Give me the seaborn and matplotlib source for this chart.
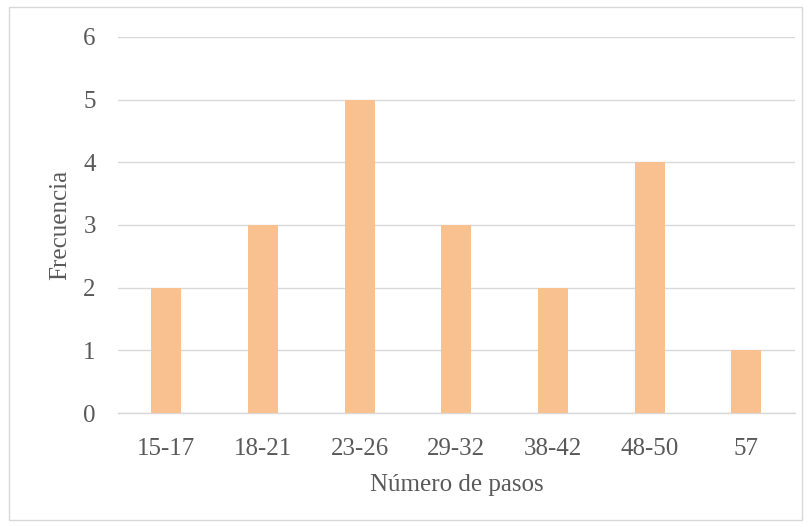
import matplotlib
matplotlib.use("Agg")
import matplotlib.pyplot as plt
import seaborn as sns
import pandas as pd
from matplotlib.patches import Rectangle

# Datos
categorias = ["15-17", "18-21", "23-26", "29-32", "38-42", "48-50", "57"]
frecuencias = [2, 3, 5, 3, 2, 4, 1]
y_ticks = [0, 1, 2, 3, 4, 5, 6]

df = pd.DataFrame({"pasos": categorias, "frecuencia": frecuencias})

sns.set_style("white")
plt.rcParams["font.family"] = ["Liberation Serif", "DejaVu Serif"]
texto = "#595959"

fig = plt.figure(figsize=(8.11, 5.27), dpi=100)
ax = fig.add_axes([0.1455, 0.2163, 0.8345, 0.7137])

sns.barplot(data=df, x="pasos", y="frecuencia", color="#F9C18F",
            width=0.31, saturation=1, linewidth=0, ax=ax, zorder=3)

ax.set_ylim(0, 6)
ax.set_xlim(-0.5, len(categorias) - 0.5)
ax.set_yticks(y_ticks)
ax.yaxis.grid(True, color="#D9D9D9", linewidth=1, zorder=0)
ax.set_axisbelow(True)
for s in ["top", "right", "left"]:
    ax.spines[s].set_visible(False)
ax.spines["bottom"].set_color("#D9D9D9")
ax.spines["bottom"].set_linewidth(1)

ax.tick_params(axis="both", length=0, labelsize=18, labelcolor=texto)
ax.tick_params(axis="x", pad=18)
ax.tick_params(axis="y", pad=16)
ax.set_xlabel("Número de pasos", fontsize=18, color=texto, labelpad=10)
ax.set_ylabel("Frecuencia", fontsize=18, color=texto, labelpad=9)

# Borde del gráfico
fig.patches.append(Rectangle((9 / 811, 7 / 527), 793 / 811, 513 / 527,
                             transform=fig.transFigure, fill=False,
                             edgecolor="#D9D9D9", linewidth=1))

fig.savefig("out.png", dpi=100)
